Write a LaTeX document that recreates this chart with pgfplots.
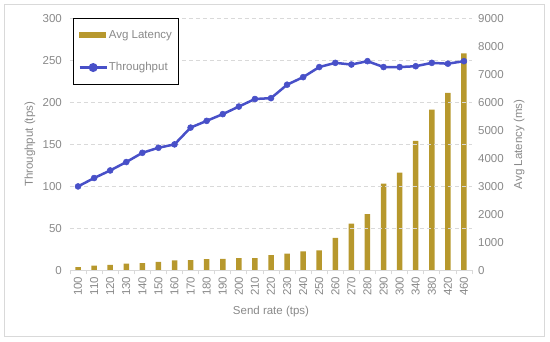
\documentclass[border=0pt]{standalone}
\usepackage{pgfplots}
\pgfplotsset{compat=1.18}
\usepackage{pgfplotstable}
\usepackage{fontspec}
\setmainfont{Liberation Sans}
\definecolor{barcol}{RGB}{183,152,45}
\definecolor{linecol}{RGB}{72,80,200}
\definecolor{txtcol}{RGB}{137,137,137}
\definecolor{gridcol}{RGB}{217,217,217}

\pgfplotstableread{
idx rate thr lat
0  100 100 120
1  110 110 175
2  120 119 198
3  130 129 248
4  140 140 263
5  150 146 310
6  160 150 358
7  170 170 370
8  180 178 405
9  190 186 415
10 200 195 440
11 210 204 445
12 220 205 545
13 230 221 600
14 240 230 685
15 250 242 720
16 260 247 1160
17 270 245 1670
18 280 249 2010
19 290 242 3100
20 300 242 3490
21 340 243 4630
22 380 247 5740
23 420 246 6340
24 460 249 7750
}\datatable

\begin{document}
\begin{tikzpicture}[x=1pt,y=1pt]
\path[use as bounding box] (0,0) rectangle (550,342);
\draw[gridcol, line width=0.8pt] (4,6) rectangle (544,338);
\pgfplotsset{common/.style={
  scale only axis, width=402pt, height=252.2pt,
  at={(70pt,71.5pt)}, anchor=south west,
  xmin=-0.5, xmax=24.5,
  /pgf/number format/assume math mode=true,
  /pgf/number format/1000 sep={},
  tick label style={font=\fontsize{11.5}{13}\selectfont, text=txtcol},
  label style={font=\fontsize{11.5}{13}\selectfont, text=txtcol},
}}
\begin{axis}[common,
  axis x line=none, axis y line*=right,
  y axis line style={draw=none},
  ymin=0, ymax=9000, ytick={0,1000,...,9000},
  scaled y ticks=false,
  major tick length=0pt,
  yticklabel style={inner sep=0pt},
  yticklabel shift=6pt,
  ylabel={Avg Latency (ms)},
  ylabel style={at={(axis description cs:1.117,0.5)}, anchor=center},
]
\addplot[ybar, bar width=5.5pt, fill=barcol, draw=none] table[x=idx,y=lat]{\datatable};
\end{axis}
\begin{axis}[common,
  axis x line*=bottom, axis y line*=left,
  x axis line style={gridcol, line width=0.8pt, -},
  y axis line style={draw=none},
  ymin=0, ymax=300, ytick={0,50,...,300},
  ymajorgrids,
  grid style={gridcol, dash pattern=on 4pt off 3pt, line width=0.8pt},
  xtick={0,...,24},
  xticklabels={100,110,120,130,140,150,160,170,180,190,200,210,220,230,240,250,260,270,280,290,300,340,380,420,460},
  minor xtick={-0.5,0.5,...,24.5},
  major tick length=0pt, minor tick length=4pt, tick align=outside,
  minor x tick style={gridcol, line width=0.8pt},
  xticklabel style={rotate=90, anchor=east, inner sep=0pt},
  xticklabel shift=6pt,
  yticklabel style={inner sep=0pt},
  yticklabel shift=8pt,
  xlabel={Send rate (tps)},
  xlabel style={at={(axis description cs:0.5,-0.1646)}, anchor=center},
  ylabel={Throughput (tps)},
  ylabel style={at={(axis description cs:-0.0995,0.5)}, anchor=center},
  legend style={at={(axis description cs:0.0075,1.0)}, anchor=north west,
    draw=black, line width=0.8pt, inner xsep=5pt, inner ysep=10.5pt,
    row sep=21pt,
    nodes={inner sep=1pt, font=\fontsize{11.5}{13}\selectfont, text=txtcol}},
  legend cell align=left,
]
\addlegendimage{legend image code/.code={\fill[barcol] (0pt,-2.5pt) rectangle (26pt,2.5pt);}}
\addlegendentry{Avg Latency}
\addplot[linecol, line width=2.5pt, mark=*, mark size=3pt, mark options={fill=linecol, draw=linecol, line width=0.5pt},
  legend image code/.code={\draw[linecol, line width=2.5pt] (0pt,0pt) -- (27pt,0pt); \fill[linecol] (13.5pt,0pt) circle[radius=3.2pt];}]
  table[x=idx,y=thr]{\datatable};
\addlegendentry{Throughput}
\end{axis}
\end{tikzpicture}
\end{document}
